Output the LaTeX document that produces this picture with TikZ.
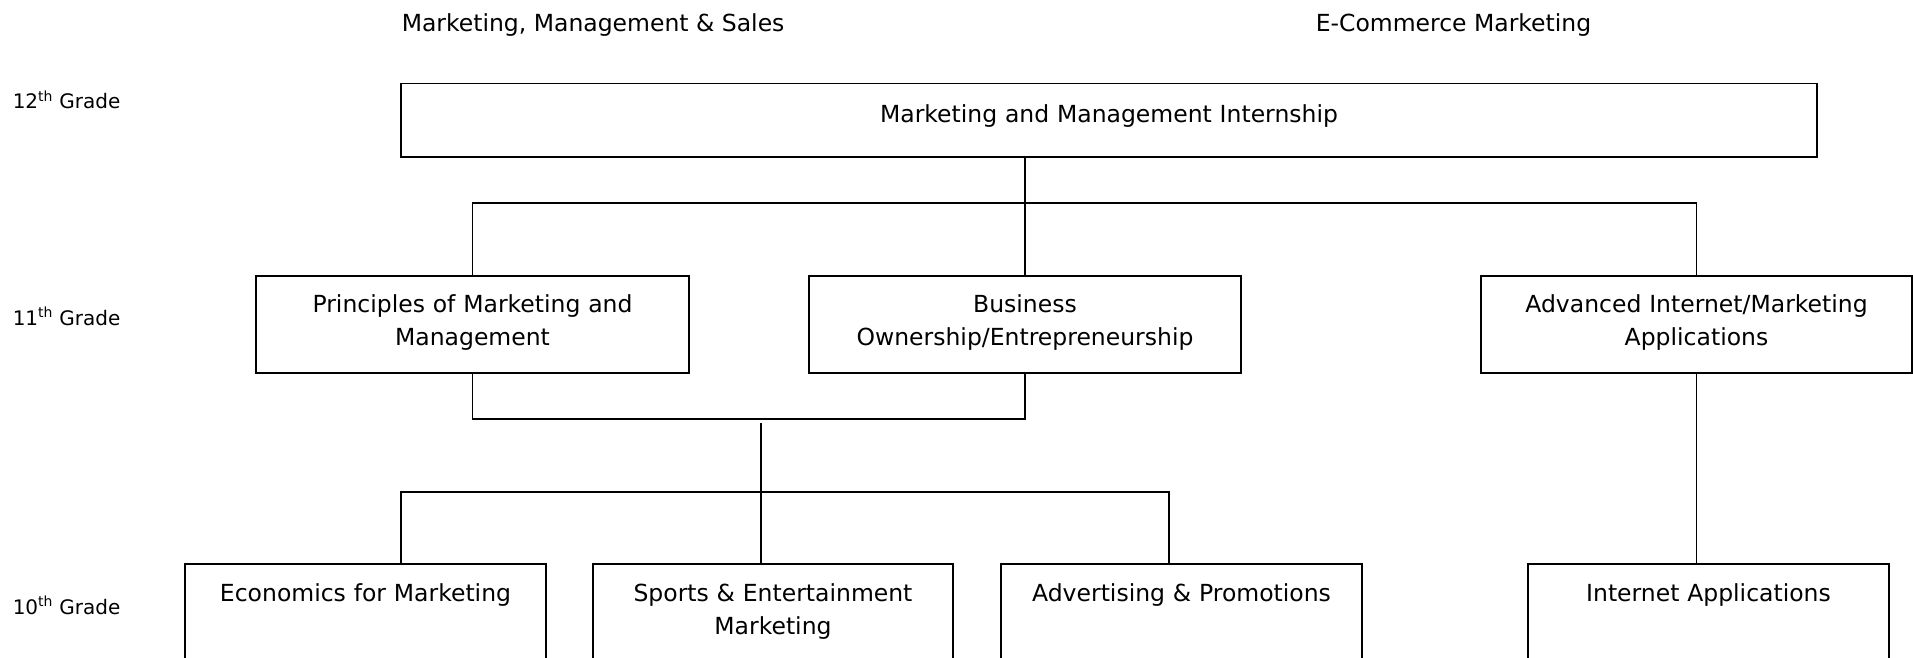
\documentclass[tikz,border=0pt]{standalone}
\usepackage{fontspec}
\setmainfont{DejaVu Sans}
\tikzstyle{topbox}=[draw, inner sep=0pt, align=center, anchor=north,
                    text height=38.5pt, text depth=34.5pt]
\tikzstyle{midbox}=[draw, inner sep=0pt, align=center, anchor=north,
                    text height=36.5pt, text depth=60.5pt]
\tikzstyle{lowbox}=[draw, inner sep=0pt, align=center, anchor=north,
                    text height=37.5pt, text depth=120pt]
\tikzstyle{grade}=[anchor=base west, inner sep=0pt, font=\fontsize{20}{24}\selectfont]
\tikzstyle{cluster}=[anchor=base west, inner sep=0pt]

\begin{document}
\begin{tikzpicture}[x=1pt, y=-1pt, line width=1.5pt,
                    font=\fontsize{23.5}{33}\selectfont]
    \path[use as bounding box, clip] (0,0) rectangle (1913,658);
    % clusters and grades
    \node[cluster] (mms) at (401,31.5) {Marketing, Management \& Sales};
    \node[cluster] (ecm) at (1315,31.5) {E-Commerce Marketing};
    \node[grade] (g12) at (12,109) {12\textsuperscript{th} Grade};
    \node[grade] (g11) at (12,325) {11\textsuperscript{th} Grade};
    \node[grade] (g10) at (12,614) {10\textsuperscript{th} Grade};
    % courses
    \node[topbox, text width=1416pt] (intern) at (1109,83)
      {Marketing and Management Internship};
    \node[midbox, text width=433pt] (prin) at (472.5,275)
      {Principles of Marketing and\\Management};
    \node[midbox, text width=432pt] (biz) at (1025,275)
      {Business\\Ownership/Entrepreneurship};
    \node[midbox, text width=431pt] (adv) at (1696.5,275)
      {Advanced Internet/Marketing\\Applications};
    \node[lowbox, text width=361pt] (econ) at (365.5,563)
      {Economics for Marketing};
    \node[lowbox, text width=360pt] (sport) at (773,563)
      {Sports \& Entertainment\\Marketing};
    \node[lowbox, text width=361pt] (advt) at (1181.5,563)
      {Advertising \& Promotions};
    \node[lowbox, text width=361pt] (inet) at (1708.5,563)
      {Internet Applications};
    % connectors
    \coordinate (j12) at (1025,203);
    \coordinate (j11) at (750,419);
    \coordinate (split) at (761,423);
    \coordinate (bar) at (761,492);
    \draw (intern.south -| biz.north) -- (biz.north);
    \draw (prin.north) |- (j12) -| (adv.north);
    \draw (prin.south) |- (j11) -| (biz.south);
    \draw (split) -- (split |- sport.north);
    \draw ([xshift=35.5pt]econ.north) |- (bar) -| ([xshift=-12.5pt]advt.north);
    \draw (adv.south) -- (adv.south |- inet.north);
\end{tikzpicture}
\end{document}
